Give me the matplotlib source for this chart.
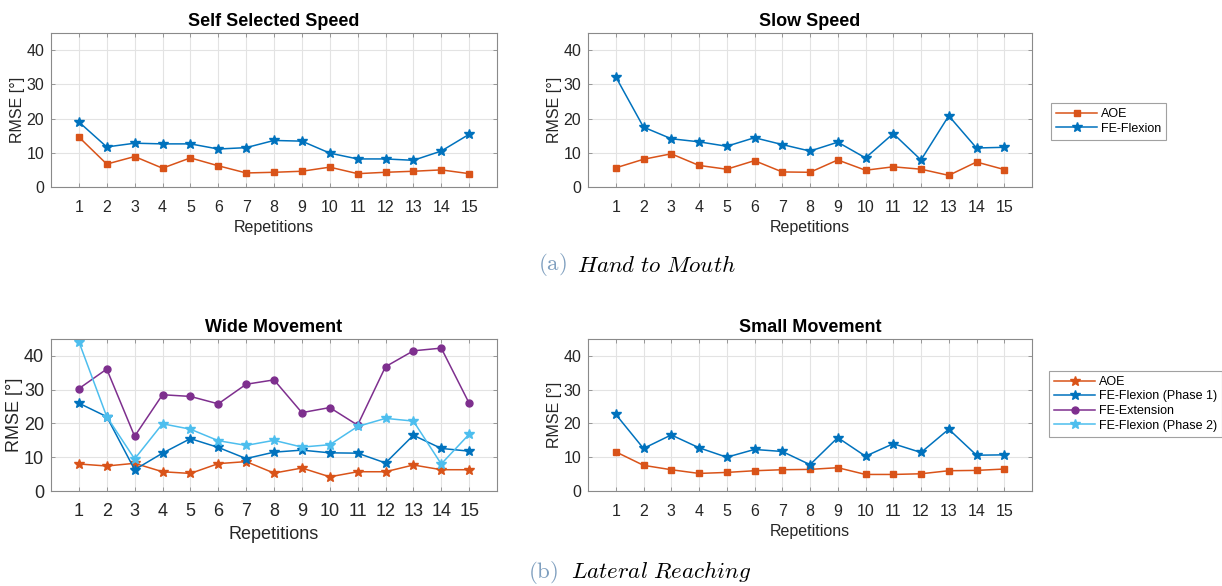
import numpy as np
import matplotlib
matplotlib.use("Agg")
import matplotlib.pyplot as plt

# repetitions on the x axis
reps = list(range(1, 16))

# (a) Hand to Mouth
self_aoe = [14.6, 6.7, 8.9, 5.5, 8.5, 6.2, 4.1, 4.3, 4.6, 5.8, 3.9, 4.3, 4.6, 5.0, 3.9]
self_fe = [19.0, 11.7, 12.8, 12.6, 12.6, 11.1, 11.5, 13.6, 13.4, 9.9, 8.2, 8.2, 7.8, 10.5, 15.4]
slow_aoe = [5.6, 8.1, 9.7, 6.3, 5.2, 7.7, 4.4, 4.3, 7.9, 4.9, 5.9, 5.2, 3.4, 7.3, 5.1]
slow_fe = [32.2, 17.5, 14.1, 13.2, 11.9, 14.4, 12.4, 10.5, 13.1, 8.5, 15.6, 7.9, 20.8, 11.4, 11.6]

# (b) Lateral Reaching
wide_aoe = [8.0, 7.4, 8.2, 5.7, 5.2, 8.1, 8.7, 5.3, 6.8, 4.2, 5.7, 5.7, 7.7, 6.3, 6.3]
wide_fe1 = [26.0, 22.0, 6.3, 11.2, 15.5, 12.9, 9.6, 11.5, 12.1, 11.3, 11.2, 8.3, 16.5, 12.6, 11.8]
wide_ext = [30.3, 36.1, 16.2, 28.5, 28.0, 25.8, 31.6, 32.9, 23.2, 24.7, 19.5, 36.8, 41.5, 42.3, 26.0]
wide_fe2 = [44.2, 22.0, 9.5, 19.9, 18.3, 14.9, 13.5, 15.0, 13.0, 13.7, 19.1, 21.5, 20.7, 8.0, 16.8]
small_aoe = [11.6, 7.6, 6.3, 5.2, 5.5, 6.0, 6.3, 6.4, 6.9, 4.9, 4.9, 5.1, 6.0, 6.1, 6.5]
small_fe = [22.7, 12.6, 16.6, 12.8, 10.0, 12.3, 11.7, 7.8, 15.8, 10.3, 14.0, 11.4, 18.3, 10.6, 10.7]

ORANGE = "#D95319"
BLUE = "#0072BD"
PURPLE = "#7E2F8E"
LIGHTBLUE = "#4DBEEE"
TXT = "#262626"

plt.rcParams["font.family"] = ["Liberation Sans", "DejaVu Sans"]
plt.rcParams["mathtext.fontset"] = "cm"

fig = plt.figure(figsize=(12.22, 5.86), dpi=100)
W, H = 1222.0, 586.0


def make_ax(left, top, right, bottom):
    return fig.add_axes([left / W, 1 - bottom / H, (right - left) / W, (bottom - top) / H])


def style(ax, title, fs):
    ax.set_xlim(0, 16)
    ax.set_ylim(0, 45)
    ax.set_xticks(reps)
    ax.set_yticks([0, 10, 20, 30, 40])
    ax.grid(True, color="#e3e3e3", lw=0.8)
    ax.set_axisbelow(True)
    for s in ax.spines.values():
        s.set_color("#8a8a8a")
        s.set_linewidth(0.8)
    ax.tick_params(direction="in", length=3, width=0.6, color="#8a8a8a",
                   labelsize=fs, labelcolor=TXT, top=True, right=True, pad=5)
    ax.tick_params(axis="x", pad=9)
    ax.set_xlabel("Repetitions", fontsize=fs, color=TXT, labelpad=4)
    ax.set_ylabel("RMSE [°]", fontsize=fs, color=TXT, labelpad=1)
    ax.set_title(title, fontsize=13, fontweight="bold", pad=5)


ax1 = make_ax(51, 33, 497, 187)
ax2 = make_ax(588, 33, 1032, 187)
ax3 = make_ax(51, 339, 497, 491)
ax4 = make_ax(588, 339, 1032, 491)

sq = dict(marker="s", markersize=4.5, lw=1.1)
st = dict(marker="*", markersize=7, lw=1.1)

ax1.plot(reps, self_aoe, color=ORANGE, **sq)
ax1.plot(reps, self_fe, color=BLUE, **st)
style(ax1, "Self Selected Speed", 11.5)

l1, = ax2.plot(reps, slow_aoe, color=ORANGE, label="AOE", **sq)
l2, = ax2.plot(reps, slow_fe, color=BLUE, label="FE-Flexion", **st)
style(ax2, "Slow Speed", 11.5)

m1, = ax3.plot(reps, wide_aoe, color=ORANGE, label="AOE", **st)
m2, = ax3.plot(reps, wide_fe1, color=BLUE, label="FE-Flexion (Phase 1)", **st)
m3, = ax3.plot(reps, wide_ext, color=PURPLE, label="FE-Extension", marker="o", markersize=5, lw=1.1)
m4, = ax3.plot(reps, wide_fe2, color=LIGHTBLUE, label="FE-Flexion (Phase 2)", **st)
style(ax3, "Wide Movement", 13)

ax4.plot(reps, small_aoe, color=ORANGE, **sq)
ax4.plot(reps, small_fe, color=BLUE, **st)
style(ax4, "Small Movement", 11.5)

leg_kw = dict(loc="upper left", fontsize=9, fancybox=False, edgecolor="#8a8a8a",
              handlelength=3.3, borderpad=0.4, labelspacing=0.2, handletextpad=0.3,
              borderaxespad=0)
lg1 = fig.legend([l1, l2], ["AOE", "FE-Flexion"], bbox_to_anchor=(1051 / W, 1 - 103 / H), **leg_kw)
lg2 = fig.legend([m1, m2, m3, m4], ["AOE", "FE-Flexion (Phase 1)", "FE-Extension", "FE-Flexion (Phase 2)"],
                 bbox_to_anchor=(1049 / W, 1 - 371 / H), **leg_kw)
for lg in (lg1, lg2):
    lg.get_frame().set_linewidth(0.8)

# sub-captions
CAP = "#7f9fbf"
fig.text(538 / W, 1 - 265 / H, r"$\mathrm{(a)}$", fontsize=16.5, color=CAP, va="center")
fig.text(577 / W, 1 - 265 / H, r"$\mathit{Hand\ to\ Mouth}$", fontsize=16.5, color="black", va="center")
fig.text(528 / W, 1 - 572 / H, r"$\mathrm{(b)}$", fontsize=16.5, color=CAP, va="center")
fig.text(571 / W, 1 - 572 / H, r"$\mathit{Lateral\ Reaching}$", fontsize=16.5, color="black", va="center")

fig.savefig("out.png", dpi=100, facecolor="white")
